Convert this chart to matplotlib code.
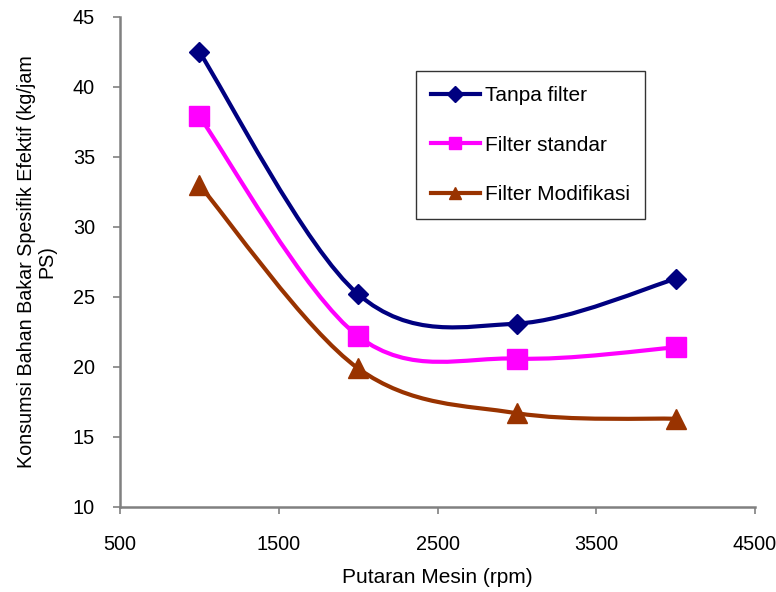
import matplotlib
matplotlib.use("Agg")
import matplotlib.pyplot as plt
from matplotlib.path import Path
from matplotlib.patches import PathPatch
from matplotlib.lines import Line2D

rpm = [1000, 2000, 3000, 4000]
tanpa_filter = [42.5, 25.2, 23.1, 26.3]
filter_standar = [37.9, 22.2, 20.6, 21.4]
filter_modifikasi = [33.0, 19.9, 16.7, 16.3]
series_names = ["Tanpa filter", "Filter standar", "Filter Modifikasi"]
xticks = [500, 1500, 2500, 3500, 4500]
yticks = [10, 15, 20, 25, 30, 35, 40, 45]

plt.rcParams['font.family'] = ['Liberation Sans', 'DejaVu Sans']

fig = plt.figure(figsize=(7.76, 5.92), dpi=100)
ax = fig.add_axes([0.1546, 0.1436, 0.973 - 0.1546, 0.9713 - 0.1436])


def smooth_path(xs, ys):
    pts = list(zip(xs, ys))
    n = len(pts)
    verts = [pts[0]]
    codes = [Path.MOVETO]
    for i in range(n - 1):
        p0 = pts[i - 1] if i > 0 else pts[i]
        p1 = pts[i]
        p2 = pts[i + 1]
        p3 = pts[i + 2] if i + 2 < n else pts[i + 1]
        c1 = (p1[0] + (p2[0] - p0[0]) / 6, p1[1] + (p2[1] - p0[1]) / 6)
        c2 = (p2[0] - (p3[0] - p1[0]) / 6, p2[1] - (p3[1] - p1[1]) / 6)
        verts += [c1, c2, p2]
        codes += [Path.CURVE4] * 3
    return Path(verts, codes)


styles = [
    ("#000080", "D", 10.5, 8),
    ("#FF00FF", "s", 14, 8.5),
    ("#993300", "^", 14, 9),
]
handles = []
for ys, name, (col, mk, ms, lms) in zip([tanpa_filter, filter_standar, filter_modifikasi], series_names, styles):
    patch = PathPatch(smooth_path(rpm, ys), facecolor='none', edgecolor=col, lw=3, zorder=2)
    ax.add_patch(patch)
    ax.plot(rpm, ys, linestyle='none', marker=mk, ms=ms, color=col, zorder=3)
    handles.append(Line2D([], [], color=col, lw=3, marker=mk, ms=lms, label=name))

ax.set_xlim(500, 4500)
ax.set_ylim(10, 45)
ax.set_xticks(xticks)
ax.set_yticks(yticks)
ax.tick_params(axis='both', labelsize=14.3, colors='black', length=5, width=1.2, direction='out')
ax.tick_params(axis='x', pad=15)
ax.tick_params(axis='y', pad=13)
for s in ['top', 'right']:
    ax.spines[s].set_visible(False)
for s in ['left', 'bottom']:
    ax.spines[s].set_color('#808080')
    ax.spines[s].set_linewidth(1.8)
ax.tick_params(color='#808080')

ax.set_xlabel("Putaran Mesin (rpm)", fontsize=15, labelpad=10)
ax.set_ylabel("Konsumsi Bahan Bakar Spesifik Efektif (kg/jam\nPS)", fontsize=14.2, labelpad=12, linespacing=1.05)

leg = ax.legend(handles=handles, loc='upper left', bbox_to_anchor=((416 - 120) / 635, 1 - (71 - 17) / 490),
                fontsize=15, frameon=True, fancybox=False, edgecolor='black', handlelength=2.35,
                labelspacing=1.47, borderpad=0.72, handletextpad=0.25, borderaxespad=0)
leg.get_frame().set_linewidth(1)

fig.savefig("out.png", dpi=100)
